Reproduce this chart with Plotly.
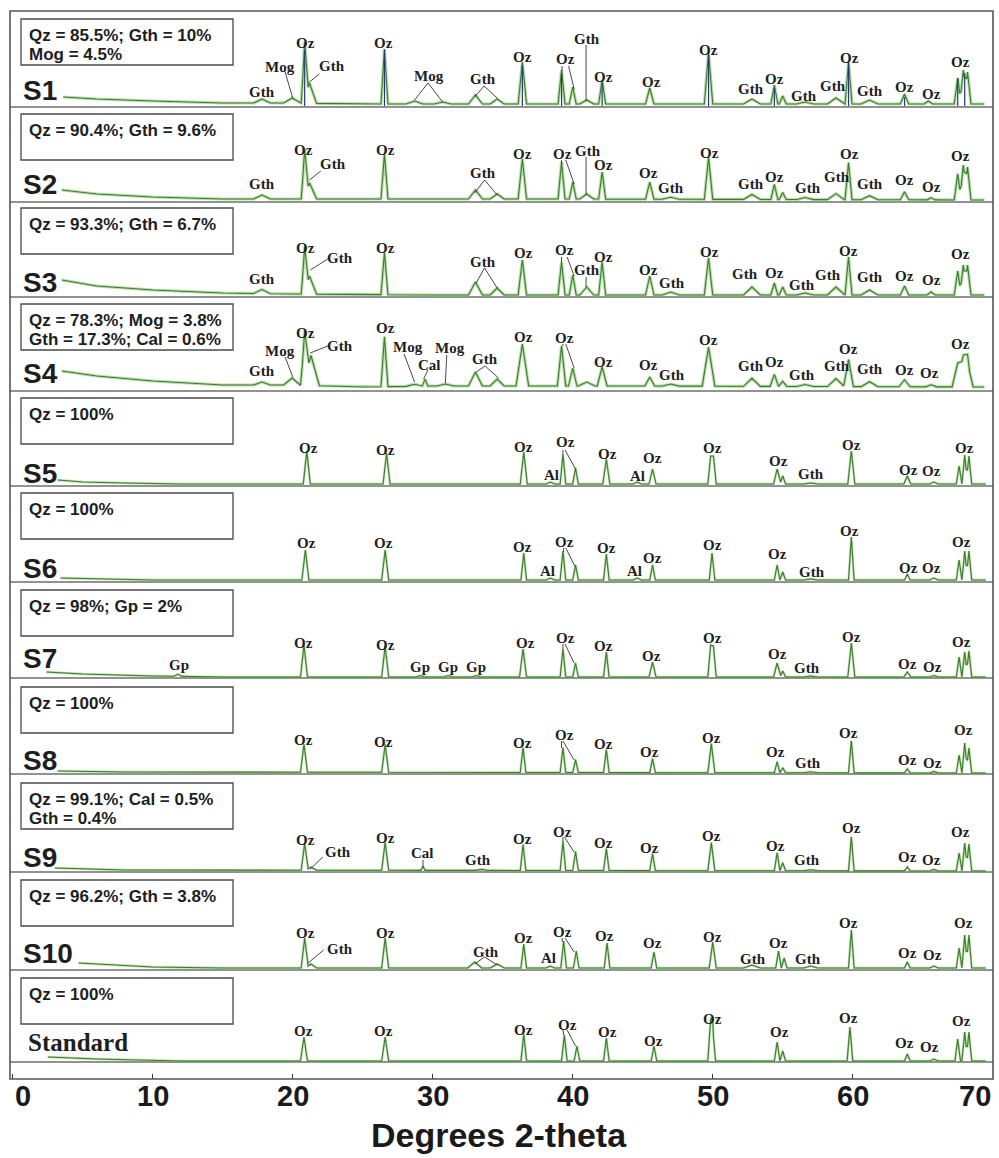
import numpy as np
import plotly.graph_objects as go

# ===================== DATA =====================
samples = ["S1", "S2", "S3", "S4", "S5", "S6", "S7", "S8", "S9", "S10", "Standard"]

compositions = [
    ["Qz = 85.5%; Gth = 10%", "Mog = 4.5%"],
    ["Qz = 90.4%; Gth = 9.6%"],
    ["Qz = 93.3%; Gth = 6.7%"],
    ["Qz = 78.3%; Mog = 3.8%", "Gth = 17.3%; Cal = 0.6%"],
    ["Qz = 100%"],
    ["Qz = 100%"],
    ["Qz = 98%; Gp = 2%"],
    ["Qz = 100%"],
    ["Qz = 99.1%; Cal = 0.5%", "Gth = 0.4%"],
    ["Qz = 96.2%; Gth = 3.8%"],
    ["Qz = 100%"],
]

x_ticks = [0, 10, 20, 30, 40, 50, 60, 70]
x_tick_labels = ["0", "10", "20", "30", "40", "50", "60", "70"]

# background level (2-theta, intensity a.u.)
s1_bg = [(3.6, 10), (6, 8), (10, 6), (15, 4), (20, 4), (25, 3), (40, 3), (69.4, 3)]
s2_bg = [(3.5, 12), (6, 8), (10, 5), (15, 3), (20, 3), (40, 3), (69.4, 2)]
s3_bg = [(3.5, 17), (6, 11), (10, 7), (15, 4), (20, 3), (30, 2), (69.4, 2)]
s4_bg = [(3.5, 20), (6, 15), (10, 10), (15, 6), (20, 6), (25, 4), (30, 5), (45, 5), (69.4, 4)]
s5_bg = [(3.2, 6), (5, 4), (8, 3), (12, 2), (69.5, 2)]
s6_bg = [(3.4, 4), (6, 3), (10, 2), (69.5, 2)]
s7_bg = [(2.4, 6), (5, 4), (10, 2), (15, 1), (69.5, 1)]
s8_bg = [(3.2, 3), (8, 2), (69.5, 1)]
s9_bg = [(3.0, 4), (8, 2), (69.5, 1)]
s10_bg = [(4.7, 7), (7, 5), (10, 3), (15, 2), (69.5, 2)]
std_bg = [(2.5, 5), (6, 3), (12, 1), (69.5, 1)]

# peaks (2-theta, height above background, half base width in degrees)
s1_peaks = [(17.8, 4, .6), (19.95, 5, .6), (20.85, 55, .25), (21.2, 20, .5), (26.55, 55, .25),
            (28.7, 3, .6), (30.7, 2, .6), (33.05, 9, .5), (34.6, 5, .5), (36.4, 42, .3),
            (39.2, 34, .25), (40.0, 17, .25), (41.0, 4, .5), (42.1, 24, .25), (45.5, 16, .3),
            (49.7, 52, .3), (52.8, 5, .6), (54.4, 19, .25), (55.0, 8, .25), (56.6, 2, .6),
            (58.8, 6, .6), (59.7, 42, .25), (61.2, 4, .6), (63.7, 10, .3), (65.4, 3, .3),
            (67.5, 26, .25), (67.9, 34, .25), (68.2, 32, .25)]
s2_peaks = [(17.8, 4, .6), (20.85, 45, .25), (21.2, 16, .5), (26.55, 45, .25), (33.05, 9, .5),
            (34.6, 5, .5), (36.4, 40, .3), (39.2, 37, .25), (40.0, 17, .25), (41.0, 5, .5),
            (42.1, 27, .25), (45.5, 17, .3), (47.0, 2, .6), (49.7, 42, .3), (52.8, 5, .6),
            (54.4, 15, .25), (55.0, 7, .25), (56.6, 2, .6), (58.8, 6, .6), (59.7, 37, .25),
            (61.2, 4, .6), (63.7, 8, .3), (65.6, 2, .3), (67.5, 26, .25), (67.9, 35, .25),
            (68.2, 33, .25)]
s3_peaks = [(17.8, 4, .6), (20.85, 42, .25), (21.2, 18, .5), (26.55, 42, .25), (33.05, 13, .5),
            (34.6, 7, .5), (36.4, 35, .3), (39.2, 33, .25), (40.0, 20, .25), (41.0, 8, .5),
            (42.1, 33, .25), (45.5, 19, .3), (47.0, 3, .6), (49.7, 37, .3), (52.8, 8, .6),
            (54.4, 12, .25), (55.0, 8, .25), (56.6, 2, .6), (58.8, 8, .6), (59.7, 38, .25),
            (61.2, 5, .6), (63.7, 9, .3), (65.6, 3, .3), (67.5, 24, .25), (67.9, 30, .25),
            (68.2, 30, .25)]
s4_peaks = [(17.8, 3, .6), (19.95, 7, .6), (20.85, 47, .3), (21.3, 30, .6), (26.55, 50, .25),
            (28.7, 2, .6), (29.45, 7, .2), (30.9, 2, .6), (33.05, 14, .5), (34.6, 7, .5),
            (36.4, 42, .45), (39.2, 40, .3), (40.0, 18, .3), (41.0, 4, .6), (42.1, 19, .35),
            (45.5, 9, .35), (47.0, 2, .6), (49.7, 39, .45), (52.8, 8, .6), (54.4, 12, .3),
            (55.0, 5, .3), (56.6, 2, .6), (58.8, 8, .6), (59.7, 27, .35), (61.2, 5, .6),
            (63.7, 7, .4), (65.6, 2, .4), (67.5, 21, .4), (67.9, 26, .45), (68.2, 24, .4)]
s5_peaks = [(21.0, 33, .25), (26.7, 31, .25), (36.5, 32, .25), (38.4, 2, .3), (39.3, 30, .2),
            (40.2, 16, .2), (42.4, 25, .25), (44.6, 2, .3), (45.7, 15, .25), (49.85, 28, .2),
            (50.05, 28, .2), (54.6, 15, .25), (55.0, 8, .2), (57.0, 1, .5), (59.9, 33, .25),
            (63.9, 8, .25), (65.8, 2, .3), (67.6, 18, .2), (68.0, 29, .2), (68.3, 28, .2)]
s6_peaks = [(20.9, 30, .25), (26.6, 30, .25), (36.5, 27, .2), (38.4, 2, .3), (39.3, 29, .2),
            (40.2, 15, .2), (42.4, 26, .2), (44.6, 2, .3), (45.7, 15, .2), (49.95, 27, .2),
            (54.6, 15, .2), (55.0, 8, .2), (57.0, 1, .5), (59.9, 43, .2), (63.9, 6, .2),
            (65.8, 2, .3), (67.6, 20, .2), (68.0, 29, .2), (68.3, 29, .2)]
s7_peaks = [(11.8, 2, .3), (20.8, 32, .25), (26.6, 31, .25), (29.1, 1.5, .3), (31.1, 1.5, .3),
            (33.1, 1.5, .3), (36.45, 28, .25), (39.3, 28, .2), (40.2, 14, .2), (42.4, 25, .2),
            (45.7, 15, .25), (49.85, 32, .2), (50.05, 31, .2), (54.6, 14, .25), (55.0, 6, .2),
            (57.0, 1, .5), (59.9, 34, .25), (63.9, 5, .25), (65.8, 1.5, .3), (67.6, 20, .2),
            (68.0, 25, .2), (68.3, 26, .2)]
s8_peaks = [(20.8, 28, .25), (26.6, 28, .25), (36.45, 25, .2), (39.3, 25, .2), (40.2, 13, .2),
            (42.4, 23, .2), (45.7, 14, .2), (49.9, 29, .25), (54.6, 11, .2), (55.0, 5, .2),
            (57.0, 1, .5), (59.9, 32, .2), (63.9, 4, .2), (65.8, 1.5, .3), (67.6, 18, .2),
            (68.0, 30, .2), (68.3, 25, .2)]
s9_peaks = [(20.85, 27, .25), (21.3, 3, .4), (26.6, 28, .25), (29.3, 4, .15), (33.5, 1, .5),
            (36.45, 26, .2), (39.3, 29, .2), (40.2, 19, .2), (42.4, 22, .2), (45.7, 17, .2),
            (49.9, 28, .25), (54.6, 18, .2), (55.0, 8, .2), (57.0, 1, .5), (59.9, 34, .2),
            (63.9, 4, .2), (65.8, 1.5, .3), (67.6, 18, .2), (68.0, 28, .2), (68.3, 27, .2)]
s10_peaks = [(20.85, 30, .25), (21.3, 4, .4), (26.6, 30, .25), (33.0, 6, .5), (34.6, 4, .5),
             (36.5, 24, .2), (38.4, 2, .3), (39.35, 27, .2), (40.25, 17, .2), (42.45, 25, .2),
             (45.8, 16, .2), (50.0, 26, .25), (52.8, 3, .6), (54.7, 17, .2), (55.1, 10, .2),
             (57.0, 2, .5), (59.9, 38, .2), (63.9, 6, .2), (65.8, 2, .3), (67.6, 20, .2),
             (68.0, 33, .2), (68.3, 33, .2)]
std_peaks = [(20.8, 24, .25), (26.6, 24, .25), (36.5, 27, .2), (39.4, 26, .2), (40.3, 15, .2),
             (42.4, 23, .2), (45.8, 15, .2), (49.85, 34, .2), (50.0, 33, .2), (54.6, 19, .2),
             (55.0, 10, .2), (59.8, 34, .2), (63.9, 7, .2), (65.8, 2, .3), (67.5, 22, .2),
             (68.0, 29, .2), (68.3, 29, .2)]

# reference stick pattern overlaid on S1 (2-theta, height)
s1_ref_sticks = [(20.85, 57), (26.55, 57), (36.4, 42), (39.2, 34), (42.1, 24), (49.7, 52),
                 (54.4, 19), (59.7, 44), (63.7, 10), (67.5, 29), (68.0, 34)]

# phase labels (text, 2-theta, height)
s1_labels = [("Gth", 17.8, 15), ("Mog", 19.1, 40), ("Oz", 20.9, 64), ("Gth", 22.8, 41), ("Oz", 26.45, 64),
             ("Mog", 29.7, 31), ("Gth", 33.6, 28), ("Oz", 36.4, 50), ("Oz", 39.5, 48), ("Gth", 41.0, 68),
             ("Oz", 42.2, 30), ("Oz", 45.6, 25), ("Oz", 49.7, 57), ("Gth", 52.7, 18), ("Oz", 54.4, 28),
             ("Gth", 56.5, 11), ("Gth", 58.6, 21), ("Oz", 59.8, 49), ("Gth", 61.2, 16), ("Oz", 63.7, 20),
             ("Oz", 65.6, 13), ("Oz", 67.7, 45)]
s2_labels = [("Gth", 17.8, 18), ("Oz", 20.8, 52), ("Gth", 22.9, 38), ("Oz", 26.65, 52), ("Gth", 33.6, 29),
             ("Oz", 36.4, 48), ("Oz", 39.3, 48), ("Gth", 41.1, 51), ("Oz", 42.2, 37), ("Oz", 45.4, 29),
             ("Gth", 47.0, 14), ("Oz", 49.8, 49), ("Gth", 52.7, 18), ("Oz", 54.4, 25), ("Gth", 56.8, 14),
             ("Gth", 58.9, 25), ("Oz", 59.8, 48), ("Gth", 61.2, 18), ("Oz", 63.7, 22), ("Oz", 65.6, 15),
             ("Oz", 67.7, 46)]
s3_labels = [("Gth", 17.8, 18), ("Oz", 20.9, 49), ("Gth", 23.4, 39), ("Oz", 26.65, 49), ("Gth", 33.6, 35),
             ("Oz", 36.5, 44), ("Oz", 39.4, 47), ("Gth", 41.0, 27), ("Oz", 42.2, 40), ("Oz", 45.4, 27),
             ("Gth", 47.1, 14), ("Oz", 49.8, 45), ("Gth", 52.3, 23), ("Oz", 54.4, 24), ("Gth", 56.4, 12),
             ("Gth", 58.2, 22), ("Oz", 59.7, 46), ("Gth", 61.2, 20), ("Oz", 63.7, 21), ("Oz", 65.6, 17),
             ("Oz", 67.7, 43)]
s4_labels = [("Gth", 17.8, 20), ("Mog", 19.1, 40), ("Oz", 20.9, 58), ("Gth", 23.4, 45), ("Oz", 26.65, 63),
             ("Mog", 28.2, 44), ("Cal", 29.8, 26), ("Mog", 31.2, 43), ("Gth", 33.7, 32), ("Oz", 36.45, 54),
             ("Oz", 39.4, 53), ("Oz", 42.2, 29), ("Oz", 45.4, 26), ("Gth", 47.1, 16), ("Oz", 49.7, 51),
             ("Gth", 52.7, 25), ("Oz", 54.4, 29), ("Gth", 56.4, 16), ("Gth", 58.9, 25), ("Oz", 59.7, 42),
             ("Gth", 61.2, 22), ("Oz", 63.7, 21), ("Oz", 65.5, 18), ("Oz", 67.7, 47)]
s5_labels = [("Oz", 21.1, 38), ("Oz", 26.65, 36), ("Oz", 36.5, 39), ("Al", 38.45, 11), ("Oz", 39.45, 44),
             ("Oz", 42.45, 32), ("Al", 44.6, 10), ("Oz", 45.7, 28), ("Oz", 49.95, 38), ("Oz", 54.7, 25),
             ("Gth", 57.0, 12), ("Oz", 59.9, 41), ("Oz", 64.0, 16), ("Oz", 65.6, 15), ("Oz", 68.0, 38)]
s6_labels = [("Oz", 20.95, 39), ("Oz", 26.5, 39), ("Oz", 36.4, 35), ("Al", 38.2, 11), ("Oz", 39.4, 40),
             ("Oz", 42.4, 34), ("Al", 44.4, 11), ("Oz", 45.7, 24), ("Oz", 49.95, 37), ("Oz", 54.65, 28),
             ("Gth", 57.1, 10), ("Oz", 59.8, 51), ("Oz", 64.0, 14), ("Oz", 65.6, 14), ("Oz", 67.8, 40)]
s7_labels = [("Gp", 11.9, 13), ("Oz", 20.75, 35), ("Oz", 26.65, 33), ("Gp", 29.1, 11), ("Gp", 31.1, 11),
             ("Gp", 33.1, 11), ("Oz", 36.6, 35), ("Oz", 39.45, 40), ("Oz", 42.2, 32), ("Oz", 45.6, 22),
             ("Oz", 49.95, 40), ("Oz", 54.6, 24), ("Gth", 56.7, 10), ("Oz", 59.9, 41), ("Oz", 63.9, 14),
             ("Oz", 65.7, 11), ("Oz", 67.8, 36)]
s8_labels = [("Oz", 20.75, 34), ("Oz", 26.45, 32), ("Oz", 36.4, 31), ("Oz", 39.4, 39), ("Oz", 42.2, 30),
             ("Oz", 45.45, 22), ("Oz", 49.9, 36), ("Oz", 54.5, 22), ("Gth", 56.8, 11), ("Oz", 59.7, 41),
             ("Oz", 63.9, 14), ("Oz", 65.7, 11), ("Oz", 67.9, 44)]
s9_labels = [("Oz", 20.9, 32), ("Gth", 23.2, 20), ("Oz", 26.6, 34), ("Cal", 29.3, 19), ("Gth", 33.2, 12),
             ("Oz", 36.4, 33), ("Oz", 39.3, 40), ("Oz", 42.2, 29), ("Oz", 45.5, 24), ("Oz", 49.9, 36),
             ("Oz", 54.5, 26), ("Gth", 56.7, 12), ("Oz", 59.9, 44), ("Oz", 63.9, 15), ("Oz", 65.6, 12),
             ("Oz", 67.7, 40)]
s10_labels = [("Oz", 20.9, 37), ("Gth", 23.4, 21), ("Oz", 26.6, 37), ("Gth", 33.8, 18), ("Oz", 36.45, 32),
              ("Al", 38.3, 12), ("Oz", 39.3, 38), ("Oz", 42.3, 34), ("Oz", 45.7, 27), ("Oz", 49.95, 33),
              ("Gth", 52.9, 11), ("Oz", 54.7, 27), ("Gth", 56.8, 11), ("Oz", 59.7, 47), ("Oz", 63.9, 17),
              ("Oz", 65.7, 15), ("Oz", 67.9, 47)]
std_labels = [("Oz", 20.75, 31), ("Oz", 26.5, 31), ("Oz", 36.45, 32), ("Oz", 39.6, 37), ("Oz", 42.45, 30),
              ("Oz", 45.8, 21), ("Oz", 49.95, 43), ("Oz", 54.8, 30), ("Oz", 59.7, 44), ("Oz", 63.7, 19),
              ("Oz", 65.5, 15), ("Oz", 67.8, 41)]

# leader lines from labels to peaks (2-theta0, h0, 2-theta1, h1)
s1_leaders = [(19.45, 35, 20.0, 9), (21.9, 33, 21.1, 24), (29.66, 24, 28.7, 7), (29.66, 24, 30.7, 5),
              (33.66, 21, 33.0, 10), (33.66, 21, 34.6, 9), (39.24, 41, 39.24, 36), (39.7, 41, 40.1, 18),
              (40.95, 62, 40.95, 6)]
s2_leaders = [(22.0, 31, 21.2, 22), (33.7, 22, 33.0, 9), (33.7, 22, 34.6, 7), (39.2, 42, 39.2, 38),
              (39.5, 42, 40.1, 18), (40.95, 45, 40.95, 7)]
s3_leaders = [(22.5, 38, 21.25, 27), (33.7, 29, 33.1, 14), (33.7, 29, 34.6, 9), (39.2, 40, 39.2, 35),
              (39.6, 40, 40.1, 21), (40.95, 20, 40.95, 10)]
s4_leaders = [(19.45, 34, 20.0, 14), (22.5, 45, 21.25, 38), (27.95, 37, 28.7, 9), (29.65, 21, 29.35, 12),
              (31.0, 36, 30.9, 8), (33.74, 25, 33.1, 19), (33.74, 25, 34.7, 13), (39.3, 47, 39.3, 45),
              (39.5, 47, 40.1, 23)]
s5_leaders = [(39.3, 36, 39.3, 32), (39.45, 36, 40.2, 17)]
s6_leaders = [(39.35, 34, 39.35, 30), (39.5, 34, 40.15, 16)]
s7_leaders = [(39.3, 34, 39.3, 29), (39.45, 34, 40.1, 15)]
s8_leaders = [(39.2, 33, 39.2, 26), (39.3, 33, 40.1, 14)]
s9_leaders = [(22.15, 15, 21.25, 3), (29.3, 12, 29.3, 5), (39.3, 35, 39.3, 30), (39.4, 35, 40.1, 20)]
s10_leaders = [(22.2, 20, 21.1, 7), (33.7, 13, 33.0, 6), (33.7, 13, 34.6, 5), (39.25, 32, 39.25, 28),
               (39.45, 32, 40.1, 18)]
std_leaders = [(39.3, 32, 39.35, 27), (39.6, 32, 40.2, 16)]

all_bg = [s1_bg, s2_bg, s3_bg, s4_bg, s5_bg, s6_bg, s7_bg, s8_bg, s9_bg, s10_bg, std_bg]
all_peaks = [s1_peaks, s2_peaks, s3_peaks, s4_peaks, s5_peaks, s6_peaks, s7_peaks, s8_peaks,
             s9_peaks, s10_peaks, std_peaks]
all_labels = [s1_labels, s2_labels, s3_labels, s4_labels, s5_labels, s6_labels, s7_labels,
              s8_labels, s9_labels, s10_labels, std_labels]
all_leaders = [s1_leaders, s2_leaders, s3_leaders, s4_leaders, s5_leaders, s6_leaders,
               s7_leaders, s8_leaders, s9_leaders, s10_leaders, std_leaders]

# ===================== LAYOUT =====================
W, H = 999, 1158
ML, MR, MT, MB = 10, 6, 11, 79
PLOT_W = W - ML - MR
PLOT_H = H - MT - MB
BOTTOM_PX = H - MB

panel_base_px = [107, 202, 297, 391, 486, 582, 678, 774, 872, 970, 1062]
box_top_px = [19, 114, 208, 304, 398, 493, 590, 687, 783, 880, 978]
name_y_px = [90, 184, 282, 373, 473, 568, 658, 760, 857, 953, 1042]


def yv(py):
    return BOTTOM_PX - py


def xp(px):
    return (px - ML) / PLOT_W


def build_profile(bg, peaks):
    bx = np.array([b[0] for b in bg], dtype=float)
    by = np.array([b[1] for b in bg], dtype=float)
    xs = set(bx.tolist())
    for p, h, w in peaks:
        xs.update([p - w, p, p + w])
    xs = np.array(sorted(x for x in xs if bx[0] <= x <= bx[-1]))
    ys = np.interp(xs, bx, by)
    for p, h, w in peaks:
        ys = ys + h * np.clip(1 - np.abs(xs - p) / w, 0, None)
    return xs, ys


GREEN = "#3b7d2d"
HALO = "rgba(130,195,100,0.55)"
SANS = "Liberation Sans, Arial, sans-serif"
SERIF = "Liberation Serif, Times New Roman, serif"

fig = go.Figure()
annotations = []
shapes = []

for i, name in enumerate(samples):
    base = yv(panel_base_px[i])
    xs, ys = build_profile(all_bg[i], all_peaks[i])
    fig.add_trace(go.Scatter(x=xs, y=ys + base, mode="lines",
                             line=dict(color=HALO, width=3.2 if i < 4 else 2.4),
                             hoverinfo="skip", showlegend=False))
    fig.add_trace(go.Scatter(x=xs, y=ys + base, mode="lines", name=name,
                             line=dict(color=GREEN, width=1.1), showlegend=False))
    if i == 0:
        sx, sy = [], []
        for p, h in s1_ref_sticks:
            sx += [p, p, None]
            sy += [base + 1, base + h, None]
        fig.add_trace(go.Scatter(x=sx, y=sy, mode="lines", line=dict(color="#27357e", width=1.2),
                                 hoverinfo="skip", showlegend=False))

    # separator / baseline
    shapes.append(dict(type="line", xref="paper", yref="y", x0=0, x1=1, y0=base, y1=base,
                       line=dict(color="#6e6e6e", width=1.3), layer="below"))

    # composition box
    bt = box_top_px[i]
    shapes.append(dict(type="rect", xref="paper", yref="y", x0=xp(21), x1=xp(233),
                       y0=yv(bt), y1=yv(bt + 46), line=dict(color="#4a4a4a", width=1.3),
                       fillcolor="rgba(255,255,255,0)"))
    for k, line in enumerate(compositions[i]):
        annotations.append(dict(text=line, xref="paper", yref="y", x=xp(27), y=yv(bt + 16 + 19 * k),
                                xanchor="left", yanchor="middle", showarrow=False,
                                font=dict(family=SANS, size=17, color="#1e1e1e", weight="bold")))
    # sample name
    if name == "Standard":
        nf = dict(family=SERIF, size=25, color="#1e1e1e", weight="bold")
        nx = xp(26)
    else:
        nf = dict(family=SANS, size=28, color="#1e1e1e", weight="bold")
        nx = xp(21)
    annotations.append(dict(text=name, xref="paper", yref="y", x=nx, y=yv(name_y_px[i]),
                            xanchor="left", yanchor="middle", showarrow=False, font=nf))

    # phase labels
    for txt, th, h in all_labels[i]:
        annotations.append(dict(text=txt, x=th, y=base + h, xref="x", yref="y",
                                xanchor="center", yanchor="middle", showarrow=False,
                                font=dict(family=SERIF, size=15, color="#1e1e1e", weight="bold")))
    for x0, h0, x1, h1 in all_leaders[i]:
        shapes.append(dict(type="line", xref="x", yref="y", x0=x0, y0=base + h0, x1=x1, y1=base + h1,
                           line=dict(color="#333333", width=0.9)))

# tick labels (placed as text so the end labels stay inside the frame like the original)
for k, (tv, tt) in enumerate(zip(x_ticks, x_tick_labels)):
    anchor = "left" if k == 0 else ("right" if k == len(x_ticks) - 1 else "center")
    annotations.append(dict(text=tt, x=tv, xref="x", yref="paper", y=-(1096 - BOTTOM_PX) / PLOT_H,
                            xanchor=anchor, yanchor="middle", showarrow=False,
                            font=dict(family=SANS, size=29, color="#1a1a1a", weight="bold")))
annotations.append(dict(text="Degrees 2-theta", xref="paper", yref="paper", x=xp(499),
                        y=-(1135 - BOTTOM_PX) / PLOT_H, xanchor="center", yanchor="middle",
                        showarrow=False, font=dict(family=SANS, size=34, color="#1a1a1a", weight="bold")))

# outer frame
shapes.append(dict(type="rect", xref="paper", yref="paper", x0=0, x1=1, y0=0, y1=1,
                   line=dict(color="#555555", width=1.6)))

fig.update_layout(
    width=W, height=H,
    margin=dict(l=ML, r=MR, t=MT, b=MB, pad=0),
    paper_bgcolor="#ffffff", plot_bgcolor="#ffffff",
    showlegend=False,
    shapes=shapes, annotations=annotations,
    xaxis=dict(range=[-0.2, 70.02], tickmode="array", tickvals=x_ticks,
               showticklabels=False,
               ticks="inside", ticklen=5, tickwidth=1.3, tickcolor="#333333",
               showgrid=False, zeroline=False, showline=False),
    yaxis=dict(range=[0, PLOT_H], visible=False, fixedrange=True),
)

fig.write_html("out.html")
